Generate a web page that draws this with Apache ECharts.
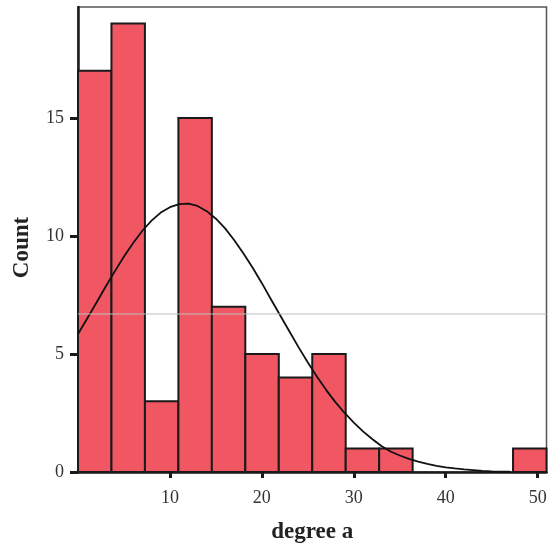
<!DOCTYPE html>
<html>
<head>
<meta charset="utf-8">
<script src="https://cdn.jsdelivr.net/npm/echarts@6/dist/echarts.min.js"></script>
<style>html,body{margin:0;padding:0;background:#fff}#c{width:556px;height:549px}</style>
</head>
<body>
<div id="c"></div>
<script>
// Histogram bins (edges) and counts
const binEdges = [0, 3.64, 7.28, 10.92, 14.56, 18.2, 21.84, 25.48, 29.12, 32.76, 36.4, 40.04, 43.68, 47.32, 50.96];
const counts = [17, 19, 3, 15, 7, 5, 4, 5, 1, 1, 0, 0, 0, 1];
// Normal curve, heights
const curveX = [0, 1, 2, 3, 4, 5, 6, 7, 8, 9, 10, 11, 12, 13, 14, 15, 16, 17, 18, 19, 20, 21, 22, 23, 24,
                25, 26, 27, 28, 29, 30, 31, 32, 33, 34, 35, 36, 37, 38, 39, 40, 41, 42, 43, 44, 45, 46, 47];
const curveY = [5.85, 6.5, 7.17, 7.85, 8.5, 9.13, 9.7, 10.22, 10.65, 10.99, 11.22, 11.35, 11.37, 11.27, 11.05, 10.73, 10.32, 9.82, 9.26, 8.65, 8.0, 7.31, 6.63, 5.95, 5.28,
                4.64, 4.04, 3.47, 2.96, 2.5, 2.09, 1.72, 1.4, 1.1, 0.87, 0.7, 0.56, 0.44, 0.34, 0.26, 0.2, 0.15, 0.11, 0.08, 0.05, 0.03, 0.02, 0.01];
const xTicks = [10, 20, 30, 40, 50];
const yTicks = [0, 5, 10, 15];
const xTitle = 'degree a';
const yTitle = 'Count';
const faintLineValue = 6.7;

const histData = counts.map((c, i) => [binEdges[i], binEdges[i + 1], c]);
const curveData = curveX.map((x, i) => [x, curveY[i]]);

const serif = '"Liberation Serif", "DejaVu Serif", serif';
const chart = echarts.init(document.getElementById('c'), null, {renderer: 'canvas'});
chart.setOption({
  animation: false,
  backgroundColor: '#ffffff',
  grid: {left: 78, right: 9.5, top: 7, bottom: 77, show: true, borderColor: '#555', borderWidth: 1.5, backgroundColor: 'transparent'},
  xAxis: {
    type: 'value', min: binEdges[0], max: binEdges[binEdges.length - 1],
    name: xTitle, nameLocation: 'middle', nameGap: 49,
    nameTextStyle: {fontFamily: serif, fontWeight: 'bold', fontSize: 23, color: '#222'},
    splitLine: {show: false},
    axisLine: {show: true, lineStyle: {color: '#1a1a1a', width: 2.5}},
    axisTick: {show: true, customValues: xTicks, length: 6, lineStyle: {color: '#1a1a1a', width: 3}},
    axisLabel: {customValues: xTicks, margin: 17, fontFamily: serif, fontSize: 18, color: '#333'}
  },
  yAxis: {
    type: 'value', min: 0, max: 19.7,
    name: yTitle, nameLocation: 'middle', nameGap: 44,
    nameTextStyle: {fontFamily: serif, fontWeight: 'bold', fontSize: 23, color: '#222', padding: [0, 16, 0, 0]},
    splitLine: {show: false},
    axisLine: {show: true, lineStyle: {color: '#1a1a1a', width: 2.5}},
    axisTick: {show: true, customValues: yTicks, length: 8, lineStyle: {color: '#1a1a1a', width: 3}},
    axisLabel: {customValues: yTicks, margin: 14, fontFamily: serif, fontSize: 18, color: '#333'}
  },
  series: [
    {
      type: 'custom',
      data: histData,
      encode: {x: [0, 1], y: 2},
      renderItem: function (params, api) {
        const c = api.value(2);
        if (!c) return null;
        const p0 = api.coord([api.value(0), c]);
        const p1 = api.coord([api.value(1), 0]);
        return {
          type: 'rect',
          shape: {x: p0[0], y: p0[1], width: p1[0] - p0[0], height: p1[1] - p0[1]},
          style: {fill: '#f15663', stroke: '#1a1a1a', lineWidth: 2}
        };
      },
      z: 2
    },
    {
      type: 'line',
      data: curveData,
      smooth: false,
      showSymbol: false,
      lineStyle: {color: '#111', width: 1.8, join: 'round'},
      z: 3,
      markLine: {
        silent: true, symbol: 'none', label: {show: false},
        lineStyle: {color: 'rgba(190,190,190,0.5)', width: 2, type: 'solid'},
        data: [{yAxis: faintLineValue}]
      }
    }
  ]
});
</script>
</body>
</html>
